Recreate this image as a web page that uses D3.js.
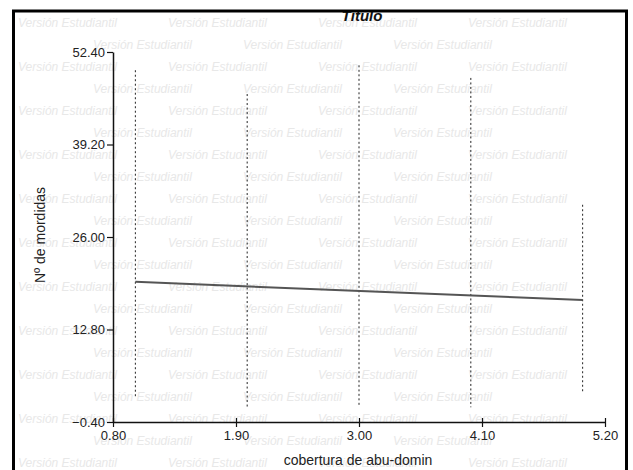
<!DOCTYPE html>
<html>
<head>
<meta charset="utf-8">
<script src="https://cdn.jsdelivr.net/npm/d3@7"></script>
<style>
  body { margin: 0; background: #fff; }
  svg { display: block; font-family: "Liberation Sans", Arial, sans-serif; }
</style>
</head>
<body>
<div id="chart"></div>
<script>
// Partial plot: Nº de mordidas vs cobertura de abu-domin

const xTicks = [0.80, 1.90, 3.00, 4.10, 5.20];
const yTicks = [-0.40, 12.80, 26.00, 39.20, 52.40];

// groups on x, with the range (dotted bars) of each group
const groupX = [1, 2, 3, 4, 5];
const groupMin = [3.0, 1.7, 1.7, 1.7, 3.9];
const groupMax = [49.8, 46.4, 50.5, 48.7, 30.6];

// fitted line
const fitX = [1, 5];
const fitY = [19.6, 17.0];

const width = 633, height = 470;
const margin = { top: 52, right: 28, bottom: 48, left: 113 };

const svg = d3.select("#chart")
    .append("svg")
    .attr("width", width)
    .attr("height", height);

svg.append("clipPath").attr("id", "inside")
    .append("rect")
    .attr("x", 15).attr("y", 12)
    .attr("width", 610).attr("height", 460);

// watermark
const wm = svg.append("g")
    .attr("clip-path", "url(#inside)")
    .attr("fill", "#e8e8e8")
    .attr("font-size", "12px")
    .attr("font-style", "italic");
for (let r = 0; r < 21; r++) {
    const off = (r % 2) ? -75 : 0;
    for (let c = 0; c < 5; c++) {
        const xx = 18 + off + c * 150;
        if (xx < 0 || xx > 520) continue;
        wm.append("text")
            .attr("x", xx)
            .attr("y", 27 + r * 22)
            .text("Versión Estudiantil");
    }
}

const x = d3.scaleLinear()
    .domain([xTicks[0], xTicks[xTicks.length - 1]])
    .range([margin.left, width - margin.right]);

const y = d3.scaleLinear()
    .domain([yTicks[0], yTicks[yTicks.length - 1]])
    .range([height - margin.bottom, margin.top]);

// dotted range bars
svg.append("g").selectAll("line")
    .data(groupX)
    .enter()
    .append("line")
    .attr("x1", d => x(d))
    .attr("x2", d => x(d))
    .attr("y1", (d, i) => y(groupMax[i]))
    .attr("y2", (d, i) => y(groupMin[i]))
    .attr("stroke", "#222")
    .attr("stroke-width", 1)
    .attr("stroke-dasharray", "2,2.5");

// fitted line
svg.append("path")
    .datum(fitX.map((d, i) => [d, fitY[i]]))
    .attr("fill", "none")
    .attr("stroke", "#555")
    .attr("stroke-width", 2)
    .attr("d", d3.line().x(d => x(d[0])).y(d => y(d[1])));

// axes
const fmt = d3.format(".2f");

const yAxis = svg.append("g")
    .attr("transform", `translate(${margin.left},0)`)
    .call(d3.axisLeft(y).tickValues(yTicks).tickFormat(fmt).tickSize(6).tickSizeOuter(0).tickPadding(2));

const xAxis = svg.append("g")
    .attr("transform", `translate(0,${height - margin.bottom})`)
    .call(d3.axisBottom(x).tickValues(xTicks).tickFormat(fmt).tickSize(5).tickSizeOuter(0).tickPadding(4));
xAxis.selectAll(".tick line").attr("y1", -4);

[yAxis, xAxis].forEach(a => {
    a.select(".domain").attr("stroke", "#111").attr("stroke-width", 1.5);
    a.selectAll(".tick line").attr("stroke", "#111").attr("stroke-width", 1.2);
    a.selectAll(".tick text")
        .attr("fill", "#222")
        .attr("font-size", "13px")
        .attr("font-family", "Liberation Sans, Arial, sans-serif");
});

// axis labels
svg.append("text")
    .attr("transform", "rotate(-90)")
    .attr("x", -235)
    .attr("y", 45)
    .attr("text-anchor", "middle")
    .attr("fill", "#222")
    .attr("font-size", "14px")
    .text("Nº de mordidas");

svg.append("text")
    .attr("x", 358)
    .attr("y", 465)
    .attr("text-anchor", "middle")
    .attr("fill", "#222")
    .attr("font-size", "14px")
    .text("cobertura de abu-domin");

// title, its top hidden behind the frame
svg.append("text")
    .attr("x", 362)
    .attr("y", 21)
    .attr("text-anchor", "middle")
    .attr("fill", "#111")
    .attr("font-size", "15px")
    .attr("font-weight", "bold")
    .attr("font-style", "italic")
    .text("Título");

svg.append("rect")
    .attr("x", 0).attr("y", 0)
    .attr("width", width).attr("height", 10)
    .attr("fill", "#fff");

// frame
svg.append("rect")
    .attr("x", 13.5)
    .attr("y", 11)
    .attr("width", 613)
    .attr("height", 480)
    .attr("fill", "none")
    .attr("stroke", "#000")
    .attr("stroke-width", 3);
</script>
</body>
</html>
